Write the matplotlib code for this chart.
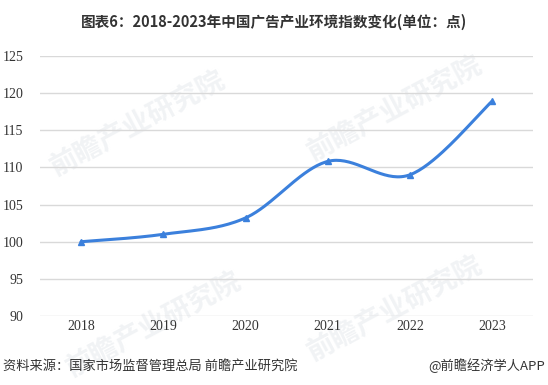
import numpy as np
import matplotlib
matplotlib.use("Agg")
import matplotlib.pyplot as plt

plt.rcParams['font.family'] = ['Noto Sans CJK SC', 'DejaVu Sans']

years = ['2018', '2019', '2020', '2021', '2022', '2023']
index_values = [100.0, 101.0, 103.2, 110.8, 109.0, 118.9]
y_ticks = [90, 95, 100, 105, 110, 115, 120, 125]

line_color = '#3b80dc'


# Excel style smoothing: cubic bezier with control points from neighbours
def smooth(xs, ys, n=40, t=1 / 6):
    xs = np.asarray(xs, float)
    ys = np.asarray(ys, float)
    px = np.concatenate([[xs[0]], xs, [xs[-1]]])
    py = np.concatenate([[ys[0]], ys, [ys[-1]]])
    out_x, out_y = [], []
    for i in range(1, len(xs)):
        p0 = np.array([px[i], py[i]])
        p3 = np.array([px[i + 1], py[i + 1]])
        c1 = p0 + t * (p3 - np.array([px[i - 1], py[i - 1]]))
        c2 = p3 - t * (np.array([px[i + 2], py[i + 2]]) - p0)
        s = np.linspace(0, 1, n)[:, None]
        b = (1 - s) ** 3 * p0 + 3 * (1 - s) ** 2 * s * c1 + 3 * (1 - s) * s ** 2 * c2 + s ** 3 * p3
        out_x.extend(b[:, 0])
        out_y.extend(b[:, 1])
    return np.array(out_x), np.array(out_y)


fig = plt.figure(figsize=(5.48, 3.85), dpi=100)
ax = fig.add_axes([0.073, 0.179, 0.900, 0.676])
ax.patch.set_alpha(0)

x = np.arange(len(years))
sx, sy = smooth(x, index_values)
ax.plot(sx, sy, color=line_color, lw=2.2, zorder=3, solid_capstyle='round')
ax.plot(x, index_values, ls='none', marker='^', ms=5, color=line_color, zorder=4)

ax.set_xlim(-0.5, len(years) - 0.5)
ax.set_ylim(90, 125)
ax.set_yticks(y_ticks)
ax.set_xticks(x)
ax.set_xticklabels(years)
ax.grid(axis='y', color='#d9d9d9', lw=1)
ax.set_axisbelow(True)
for sp in ax.spines.values():
    sp.set_visible(False)
ax.tick_params(length=0, labelsize=10, colors='#333333')
ax.tick_params(axis='y', pad=12)
ax.tick_params(axis='x', pad=3)
for lab in ax.get_xticklabels() + ax.get_yticklabels():
    lab.set_family('Liberation Serif')

# faint watermarks behind the chart
for wx, wy in [(0.25, 0.68), (0.72, 0.72), (0.28, 0.16), (0.72, 0.20)]:
    fig.text(wx, wy, '前瞻产业研究院', fontsize=20, fontweight='bold', color='#f1f3f5',
             rotation=28, ha='center', va='center', zorder=-1)

fig.text(0.5, 0.943, '图表6：2018-2023年中国广告产业环境指数变化(单位：点)',
         ha='center', va='center', fontsize=10.5, fontweight='bold', color='#333333')
fig.text(0.005, 0.05, '资料来源：国家市场监督管理总局 前瞻产业研究院',
         ha='left', va='center', fontsize=9.5, color='#333333')
fig.text(0.995, 0.05, '@前瞻经济学人APP',
         ha='right', va='center', fontsize=9.5, color='#333333')

fig.savefig('out.png', dpi=100)
